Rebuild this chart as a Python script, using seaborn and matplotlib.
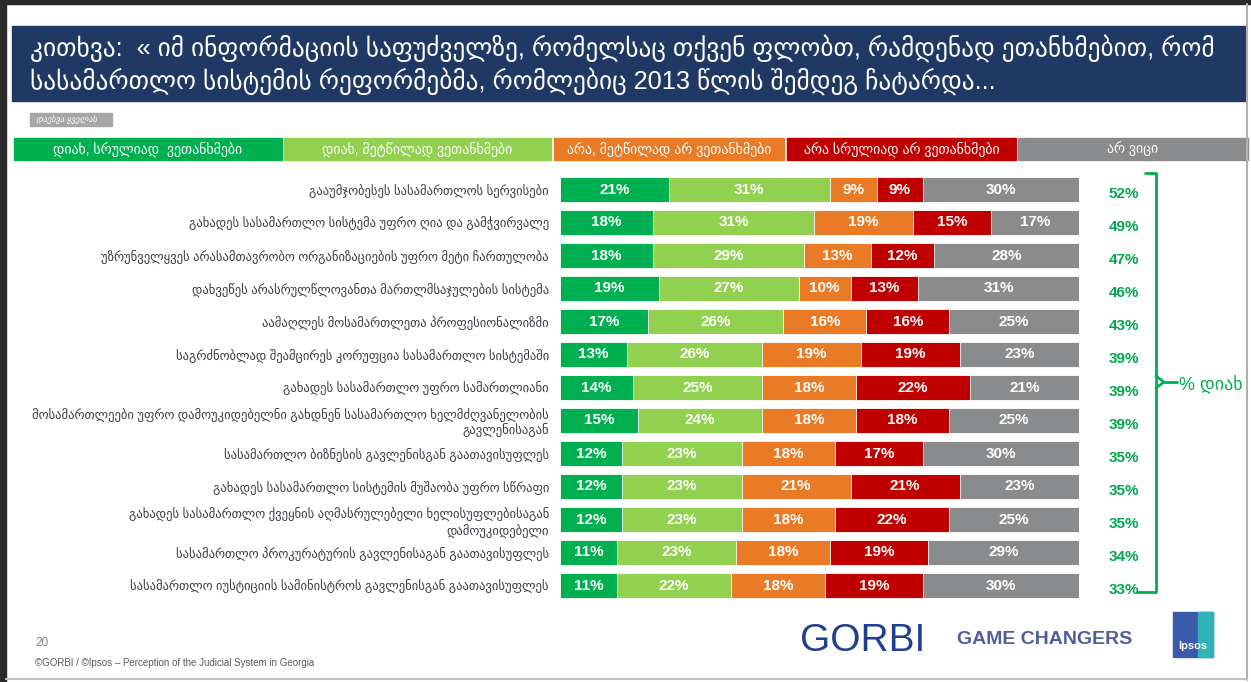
import numpy as np
import pandas as pd
import matplotlib.pyplot as plt
import seaborn as sns
from matplotlib.patches import Rectangle

# statements, top to bottom
statements = [
    "გააუმჯობესეს სასამართლოს სერვისები",
    "გახადეს სასამართლო სისტემა უფრო ღია და გამჭვირვალე",
    "უზრუნველყვეს არასამთავრობო ორგანიზაციების უფრო მეტი ჩართულობა",
    "დახვეწეს არასრულწლოვანთა მართლმსაჯულების სისტემა",
    "აამაღლეს მოსამართლეთა პროფესიონალიზმი",
    "საგრძნობლად შეამცირეს კორუფცია სასამართლო სისტემაში",
    "გახადეს სასამართლო უფრო სამართლიანი",
    "მოსამართლეები უფრო დამოუკიდებელნი გახდნენ სასამართლო ხელმძღვანელობის\nგავლენისაგან",
    "სასამართლო ბიზნესის გავლენისგან გაათავისუფლეს",
    "გახადეს სასამართლო სისტემის მუშაობა უფრო სწრაფი",
    "გახადეს სასამართლო ქვეყნის აღმასრულებელი ხელისუფლებისაგან\nდამოუკიდებელი",
    "სასამართლო პროკურატურის გავლენისაგან გაათავისუფლეს",
    "სასამართლო იუსტიციის სამინისტროს გავლენისგან გაათავისუფლეს",
]

# answers (%)
fully_agree = [21, 18, 18, 19, 17, 13, 14, 15, 12, 12, 12, 11, 11]
mostly_agree = [31, 31, 29, 27, 26, 26, 25, 24, 23, 23, 23, 23, 22]
mostly_disagree = [9, 19, 13, 10, 16, 19, 18, 18, 18, 21, 18, 18, 18]
fully_disagree = [9, 15, 12, 13, 16, 19, 22, 18, 17, 21, 22, 19, 19]
dont_know = [30, 17, 28, 31, 25, 23, 21, 25, 30, 23, 25, 29, 30]

answer_names = [
    "დიახ, სრულიად  ვეთანხმები",
    "დიახ, მეტწილად ვეთანხმები",
    "არა, მეტწილად არ ვეთანხმები",
    "არა სრულიად არ ვეთანხმები",
    "არ ვიცი",
]
answer_colors = ["#00B050", "#92D050", "#E97A26", "#C00000", "#898B8D"]

title_line1 = "კითხვა:  « იმ ინფორმაციის საფუძველზე, რომელსაც თქვენ ფლობთ, რამდენად ეთანხმებით, რომ"
title_line2 = "სასამართლო სისტემის რეფორმებმა, რომლებიც 2013 წლის შემდეგ ჩატარდა..."

df = pd.DataFrame(
    {
        answer_names[0]: fully_agree,
        answer_names[1]: mostly_agree,
        answer_names[2]: mostly_disagree,
        answer_names[3]: fully_disagree,
        answer_names[4]: dont_know,
    },
    index=statements,
)
df_cum = df.cumsum(axis=1)
yes_total = df[answer_names[0]] + df[answer_names[1]]

sns.set_style("white")
plt.rcParams["font.family"] = ["Liberation Sans", "DejaVu Sans"]

fig = plt.figure(figsize=(12.51, 6.82), dpi=100)

# background axes in pixel units for the slide decorations
bg = fig.add_axes([0, 0, 1, 1], zorder=0)
bg.set_xlim(0, 1251)
bg.set_ylim(682, 0)
bg.axis("off")

# screenshot frame
bg.add_patch(Rectangle((0, 0), 6, 682, color="#2a2a2a"))
bg.add_patch(Rectangle((0, 0), 1251, 4, color="#2a2a2a"))
bg.plot([1247, 1247], [4, 680], color="#b0b0b0", lw=1.5)
bg.plot([6, 1247], [679, 679], color="#c0c0c0", lw=1.5)

# title box
bg.add_patch(Rectangle((12, 26), 1233, 75, color="#1F3864"))
bg.text(30, 48, title_line1, color="white", fontsize=18.3, va="center")
bg.text(30, 81, title_line2, color="white", fontsize=18.3, va="center")

# small tag
bg.add_patch(Rectangle((30, 113), 82, 13, color="#a6a6a6"))
bg.text(36, 119.5, "დაესვა ყველას", color="white", fontsize=6, style="italic", va="center")

# header row acting as legend
header_x = [(14, 282), (284, 551), (554, 784), (787, 1016), (1018, 1248)]
for (x0, x1), name, col in zip(header_x, answer_names, answer_colors):
    bg.add_patch(Rectangle((x0, 138), x1 - x0, 22, color=col))
    bg.text((x0 + x1) / 2, 149, name, color="white", fontsize=10, ha="center", va="center")

# stacked bars
ax = fig.add_axes([560 / 1251, 1 - 602 / 682, 519 / 1251, 429 / 682], zorder=1)
ax.set_facecolor("none")
for col, color in reversed(list(zip(answer_names, answer_colors))):
    sns.barplot(x=df_cum[col].values, y=statements, color=color, orient="h",
                width=0.77, saturation=1, edgecolor="white", linewidth=0.6, ax=ax)

for i, stmt in enumerate(statements):
    for col in answer_names:
        val = df.loc[stmt, col]
        left = df_cum.loc[stmt, col] - val
        ax.text(left + val / 2, i, f"{val}%", color="white", fontsize=11,
                fontweight="bold", ha="center", va="center")
    ax.text(108.6, i + 0.15, f"{yes_total[stmt]}%", color="#00A650", fontsize=11,
            fontweight="bold", ha="center", va="center", clip_on=False)

ax.set_xlim(0, 100)
ax.set_xlabel("")
ax.set_ylabel("")
ax.set_xticks([])
ax.tick_params(axis="y", length=0, pad=8, labelsize=9.1, labelcolor="#3b3b45")
sns.despine(ax=ax, left=True, bottom=True)

# bracket for % yes
g = "#00B050"
bg.plot([1145, 1156, 1156, 1137], [173, 173, 592, 592], color=g, lw=2, solid_joinstyle="round")
bg.plot([1156, 1164, 1156], [376, 382, 388], color=g, lw=2)
bg.plot([1164, 1177], [382, 382], color=g, lw=2)
bg.text(1179, 385, "% დიახ", color=g, fontsize=13, va="center")

# footer
bg.text(35, 643, "20", color="#808080", fontsize=8.5, va="center")
bg.text(35, 663, "©GORBI / ©Ipsos – Perception of the Judicial System in Georgia",
        color="#595959", fontsize=7, va="center")
bg.text(800, 641, "GORBI", color="#1F3F8F", fontsize=28, va="center")
bg.text(957, 640, "GAME CHANGERS", color="#4F5E9E", fontsize=14, fontweight="bold", va="center")
bg.add_patch(Rectangle((1173, 612), 40, 45, color="#3A5BA9"))
bg.add_patch(Rectangle((1198, 612), 15, 45, color="#2FB3B8"))
bg.text(1193, 646, "Ipsos", color="white", fontsize=8, fontweight="bold", ha="center", va="center")

plt.savefig("out.png", dpi=100)
